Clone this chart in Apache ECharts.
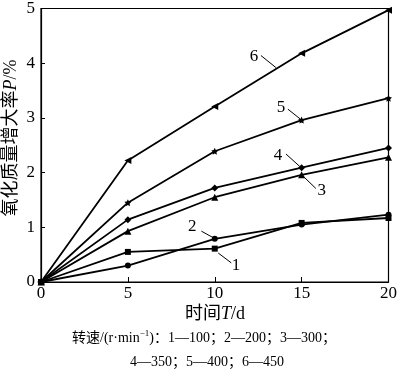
<!DOCTYPE html>
<html><head><meta charset="utf-8">
<script src="https://cdn.jsdelivr.net/npm/echarts@6/dist/echarts.min.js"></script>
<style>html,body{margin:0;padding:0;background:#fff}#c{width:400px;height:373px}</style>
</head><body><div id="c"></div>
<script>
var days = [0, 5, 10, 15, 20];
var s1 = [0, 0.55, 0.61, 1.08, 1.17];
var s2 = [0, 0.30, 0.79, 1.05, 1.23];
var s3 = [0, 0.93, 1.55, 1.96, 2.28];
var s4 = [0, 1.14, 1.72, 2.09, 2.45];
var s5 = [0, 1.45, 2.39, 2.96, 3.36];
var s6 = [0, 2.22, 3.21, 4.18, 4.97];
var seriesNames = ['1', '2', '3', '4', '5', '6'];
var yTicks = [0, 1, 2, 3, 4, 5];
var xTicks = [0, 5, 10, 15, 20];
// leader labels: [label, textX, textY, lineX1, lineY1, lineX2, lineY2] in data units
var leaders = [
  ['6', 12.26, 4.13, 12.66, 4.14, 13.52, 3.92],
  ['5', 13.81, 3.19, 14.21, 3.16, 14.96, 2.97],
  ['4', 13.64, 2.32, 14.10, 2.34, 14.90, 2.11],
  ['3', 16.16, 1.67, 15.07, 1.94, 15.82, 1.71],
  ['2', 8.71, 1.02, 9.23, 0.93, 9.97, 0.80],
  ['1', 11.23, 0.30, 10.20, 0.53, 10.95, 0.35]
];

var SERIF = '"Liberation Serif", "Times New Roman", "Noto Sans CJK SC", serif';
var star = 'path://M0,-10 L2.9,-4 9.5,-3.1 4.7,1.5 5.9,8.1 0,5 -5.9,8.1 -4.7,1.5 -9.5,-3.1 -2.9,-4 Z';
var symbols = [['rect', 6, 0], ['circle', 6, 0], ['triangle', 7, 0], ['diamond', 7, 0], [star, 7, 0], ['triangle', 7, 90]];
var allData = [s1, s2, s3, s4, s5, s6];

function pairs(arr) { return days.map(function (d, i) { return [d, arr[i]]; }); }

var chart = echarts.init(document.getElementById('c'));
var series = allData.map(function (arr, k) {
  return {
    name: seriesNames[k], type: 'line', data: pairs(arr),
    symbol: symbols[k][0], symbolSize: symbols[k][1], symbolRotate: symbols[k][2],
    showAllSymbol: true, animation: false,
    lineStyle: { color: '#000', width: 1.8 },
    itemStyle: { color: '#000', borderWidth: 0 }
  };
});

chart.setOption({
  animation: false,
  grid: { left: 41, right: 10, top: 5, bottom: 91, show: true, borderColor: '#000', borderWidth: 1.2, backgroundColor: 'transparent' },
  xAxis: {
    type: 'value', min: 0, max: 20, interval: 5,
    axisLine: { show: true, lineStyle: { color: '#000', width: 1.2 } },
    axisTick: { show: true, inside: true, length: 5, lineStyle: { color: '#000' } },
    axisLabel: { color: '#000', fontFamily: SERIF, fontSize: 17, margin: 3 },
    splitLine: { show: false }
  },
  yAxis: {
    type: 'value', min: 0, max: 5, interval: 1,
    axisLine: { show: true, lineStyle: { color: '#000', width: 1.2 } },
    axisTick: { show: true, inside: true, length: 4, lineStyle: { color: '#000' } },
    axisLabel: { color: '#000', fontFamily: SERIF, fontSize: 17, margin: 6 },
    splitLine: { show: false }
  },
  series: series
});

var g = [];
leaders.forEach(function (L) {
  var t = chart.convertToPixel({ gridIndex: 0 }, [L[1], L[2]]);
  var a = chart.convertToPixel({ gridIndex: 0 }, [L[3], L[4]]);
  var b = chart.convertToPixel({ gridIndex: 0 }, [L[5], L[6]]);
  g.push({ type: 'text', x: t[0], y: t[1], style: { text: L[0], fill: '#000', font: '17px ' + SERIF, textAlign: 'center', textVerticalAlign: 'middle' } });
  g.push({ type: 'line', shape: { x1: a[0], y1: a[1], x2: b[0], y2: b[1] }, style: { stroke: '#000', lineWidth: 1 } });
});

// axis titles
g.push({
  type: 'text', x: 11, y: 138, rotation: Math.PI / 2,
  style: {
    text: '氧化质量增大率{i|P}/%', fill: '#000', font: '18px ' + SERIF,
    textAlign: 'center', textVerticalAlign: 'middle',
    rich: { i: { fontStyle: 'italic', fontFamily: SERIF, fontSize: 18 } }
  }
});
g.push({
  type: 'text', x: 215, y: 314,
  style: {
    text: '时间{i|T}/d', fill: '#000', font: '18px ' + SERIF,
    textAlign: 'center', textVerticalAlign: 'middle',
    rich: { i: { fontStyle: 'italic', fontFamily: SERIF, fontSize: 18 } }
  }
});
g.push({
  type: 'text', x: 204, y: 338,
  style: {
    text: '转速/(r·min{s|−1})：1—100；2—200；3—300；', fill: '#000', font: '14px ' + SERIF,
    textAlign: 'center', textVerticalAlign: 'middle',
    rich: { s: { fontSize: 9, fontFamily: SERIF, verticalAlign: 'top', padding: [0, 0, 8, 0] } }
  }
});
g.push({
  type: 'text', x: 207, y: 362,
  style: {
    text: '4—350；5—400；6—450', fill: '#000', font: '14px ' + SERIF,
    textAlign: 'center', textVerticalAlign: 'middle'
  }
});
chart.setOption({ graphic: g });
</script></body></html>
